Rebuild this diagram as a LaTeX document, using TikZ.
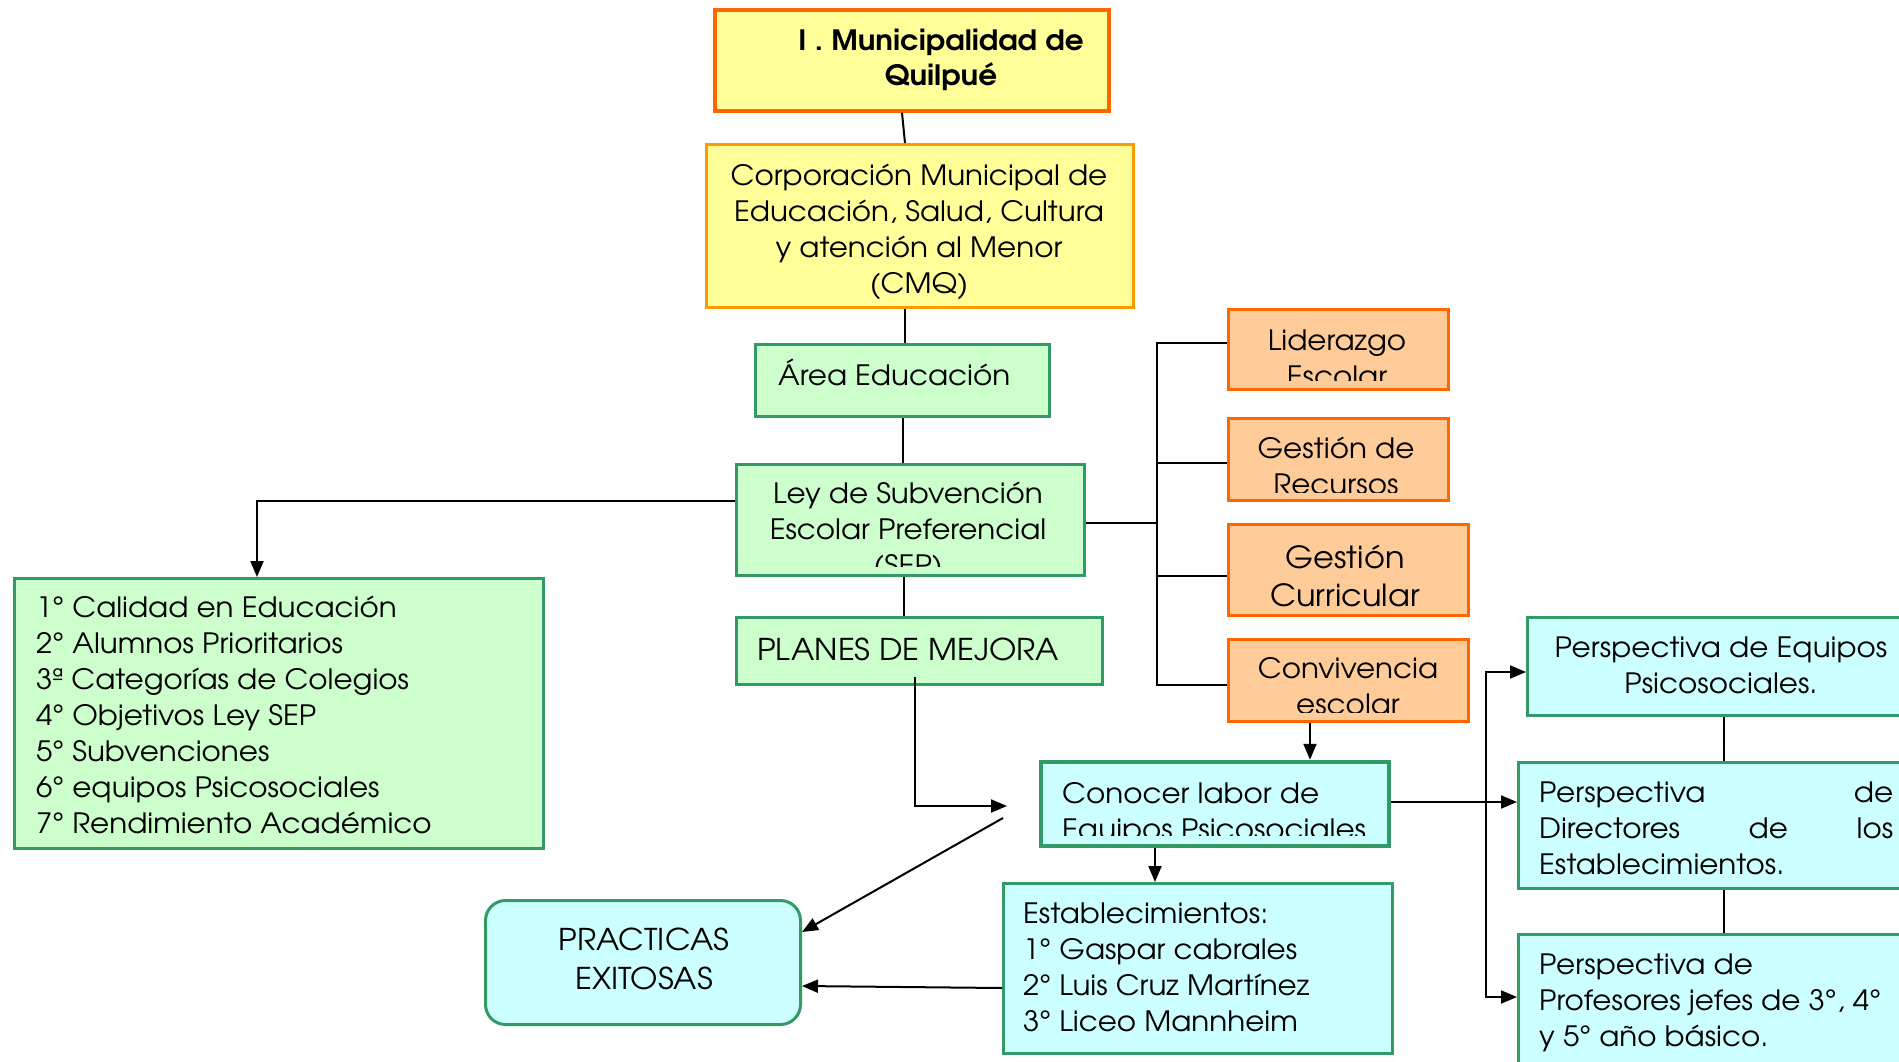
\documentclass[tikz,border=0pt]{standalone}
\usepackage{fontspec}
\setmainfont{texgyreadventor}[Extension=.otf,UprightFont=*-regular,BoldFont=*-bold,FakeStretch=1.05]
\usetikzlibrary{arrows.meta,calc}
\definecolor{ylwfill}{HTML}{FFFF99}
\definecolor{orgline}{HTML}{FF6600}
\definecolor{orgline2}{HTML}{FF9900}
\definecolor{grnline}{HTML}{339966}
\definecolor{grnfill}{HTML}{CCFFCC}
\definecolor{orgfill}{HTML}{FFCC99}
\definecolor{cyfill}{HTML}{CCFFFF}
\newcommand\mystrut{\rule{0pt}{1em}}
\begin{document}
\begin{tikzpicture}[x=1pt,y=-1pt,
  box/.style={rectangle, inner sep=0pt, line width=3pt},
  ybox/.style={box, fill=ylwfill, draw=orgline2},
  gbox/.style={box, fill=grnfill, draw=grnline},
  obox/.style={box, fill=orgfill, draw=orgline},
  cbox/.style={box, fill=cyfill, draw=grnline},
  txt/.style={inner sep=0pt, font=\fontsize{28}{36}\selectfont, align=center},
  ltxt/.style={txt, align=left},
  arr/.style={-{Triangle[length=16pt,width=13pt]}, line width=2pt},
  conn/.style={line width=2pt}]
\useasboundingbox (0,0) rectangle (1899,1061);
\clip (0,0) rectangle (1899,1061);
\fill[white] (0,0) rectangle (1899,1061);

% boxes
\node[ybox, draw=orgline, line width=3.5pt, minimum width=394pt, minimum height=101pt] (muni) at (912,60.5) {};
\node[ybox, minimum width=427pt, minimum height=163pt] (cmq) at (920,226) {};
\node[gbox, minimum width=294pt, minimum height=72pt] (area) at (902.5,380.5) {};
\node[gbox, minimum width=348pt, minimum height=111pt] (ley) at (910.5,520) {};
\node[gbox, minimum width=366pt, minimum height=67pt] (planes) at (919.5,651) {};
\node[obox, minimum width=220pt, minimum height=80pt] (lid) at (1338.5,349.5) {};
\node[obox, minimum width=220pt, minimum height=82pt] (rec) at (1338.5,459.5) {};
\node[obox, minimum width=240pt, minimum height=91pt] (cur) at (1348.5,570) {};
\node[obox, minimum width=240pt, minimum height=82pt] (conv) at (1348.5,680.5) {};
\node[cbox, line width=4.5pt, minimum width=348pt, minimum height=84pt] (conocer) at (1215,804) {};
\node[cbox, minimum width=389pt, minimum height=170pt] (est) at (1198,968.5) {};
\node[cbox, rounded corners=20pt, minimum width=315pt, minimum height=124pt] (prac) at (643,962.5) {};
\node[gbox, minimum width=529pt, minimum height=270pt] (list) at (279,713.5) {};
\node[cbox, minimum width=401pt, minimum height=98pt] (peq) at (1728,666.5) {};
\node[cbox, minimum width=410pt, minimum height=126pt] (pdir) at (1723.5,825.5) {};
\node[cbox, minimum width=410pt, minimum height=164pt] (pprof) at (1723.5,1016.5) {};

% texts
\node[txt, anchor=north, font=\fontsize{28}{35}\selectfont\bfseries] (muniT) at (941,22) {\mystrut I . Municipalidad de\\Quilpué};
\node[txt, anchor=north] (cmqT) at (919,157) {\mystrut Corporación Municipal de\\Educación, Salud, Cultura\\y atención al Menor\\(CMQ)};
\node[txt, anchor=base west] (areaT) at (778,385) {Área Educación};
\begin{scope}
\clip (737,465) rectangle (1084,566);
\node[txt, anchor=north] (leyT) at (908,475) {\mystrut Ley de Subvención\\Escolar Preferencial\\(SEP)};
\end{scope}
\node[txt, anchor=base west, font=\fontsize{30}{36}\selectfont] (planesT) at (757,660) {PLANES DE MEJORA};
\begin{scope}
\clip (1229,310) rectangle (1448,380);
\node[txt, anchor=north] (lidT) at (1337,322) {\mystrut Liderazgo\\Escolar};
\end{scope}
\begin{scope}
\clip (1229,419) rectangle (1448,492);
\node[txt, anchor=north] (recT) at (1336,430) {\mystrut Gestión de\\Recursos};
\end{scope}
\node[txt, anchor=north, font=\fontsize{30.5}{38}\selectfont] (curT) at (1345,537.5) {\mystrut Gestión\\Curricular};
\begin{scope}
\clip (1229,640) rectangle (1468,712);
\node[txt, anchor=north] (convT) at (1348,650) {\mystrut Convivencia\\escolar};
\end{scope}
\begin{scope}
\clip (1042,763) rectangle (1388,835);
\node[ltxt, anchor=north west] (conocerT) at (1062,775) {\mystrut Conocer labor de\\Equipos Psicosociales};
\end{scope}
\node[ltxt, anchor=north west] (estT) at (1023,895) {\mystrut Establecimientos:\\1° Gaspar cabrales\\2° Luis Cruz Martínez\\3° Liceo Mannheim};
\node[txt, anchor=north, font=\fontsize{30}{39}\selectfont] (pracT) at (644,920) {\mystrut PRACTICAS\\EXITOSAS};
\node[ltxt, anchor=north west] (listT) at (36,589) {\mystrut 1° Calidad en Educación\\2° Alumnos Prioritarios\\3ª Categorías de Colegios\\4° Objetivos Ley SEP\\5° Subvenciones\\6° equipos Psicosociales\\7° Rendimiento Académico};
\node[txt, anchor=north] (peqT) at (1721,629) {\mystrut Perspectiva de Equipos\\Psicosociales.};
\node[ltxt, anchor=north west] (pdirT) at (1539,774) {\mystrut\makebox[354pt][s]{Perspectiva de}\\\makebox[354pt][s]{Directores de los}\\Establecimientos.};
\node[ltxt, anchor=north west] (pprofT) at (1539,946) {\mystrut Perspectiva de\\Profesores jefes de 3°, 4°\\y 5° año básico.};

% connectors
\draw[conn] ([xshift=-10pt]muni.south) -- ([xshift=-15pt]cmq.north);
\draw[conn] ([xshift=-15pt]cmq.south) -- ([xshift=2.5pt]area.north);
\draw[conn] (area.south) -- (area.south |- ley.north);
\coordinate (leyS) at ([xshift=-6.5pt]ley.south);
\draw[conn] (leyS) -- (leyS |- planes.north);
\draw[arr] ([yshift=19pt]ley.west) -| ([xshift=-22pt]list.north);

\coordinate (bx) at (1157,523);
\coordinate (lidW) at ([yshift=6.5pt]lid.west);
\coordinate (recW) at ([yshift=-3.5pt]rec.west);
\coordinate (curW) at ([yshift=-6pt]cur.west);
\coordinate (convW) at ([yshift=-4.5pt]conv.west);
\draw[conn] ([yshift=-3pt]ley.east) -- (bx);
\draw[conn] (lidW) -- (lidW -| bx) -- (convW -| bx) -- (convW);
\draw[conn] (recW) -- (recW -| bx);
\draw[conn] (curW) -- (curW -| bx);

\coordinate (convS) at ([xshift=-38.5pt]conv.south);
\draw[arr] (convS) -- (convS |- conocer.north);

\coordinate (plS) at ([xshift=-4.5pt,yshift=-26pt]planes.center);
\coordinate (pmEnd) at (1007,806);
\draw[arr] (plS) |- (pmEnd);

\coordinate (dgS) at (1003,818);
\draw[arr] (dgS) -- ([yshift=30.5pt]prac.east);
\draw[arr] ([yshift=-19.5pt]est.west) -- ([yshift=-23.5pt]prac.east);

\coordinate (conS) at ([xshift=-60pt]conocer.south);
\draw[arr] (conS) -- (conS |- est.north);

\coordinate (conE) at ([yshift=2pt]conocer.east);
\coordinate (bus) at (1486,802);
\coordinate (peqW) at ([yshift=-5.5pt]peq.west);
\coordinate (ppW) at ([yshift=19.5pt]pprof.west);
\draw[arr] (conE) -- (conE -| pdir.west);
\draw[arr] (bus) |- (peqW);
\draw[arr] (bus) |- (ppW);

\draw[conn] ([xshift=-4pt]peq.south) -- ([xshift=0.5pt]pdir.north);
\draw[conn] ([xshift=0.5pt]pdir.south) -- ([xshift=0.5pt]pprof.north);
\end{tikzpicture}
\end{document}
